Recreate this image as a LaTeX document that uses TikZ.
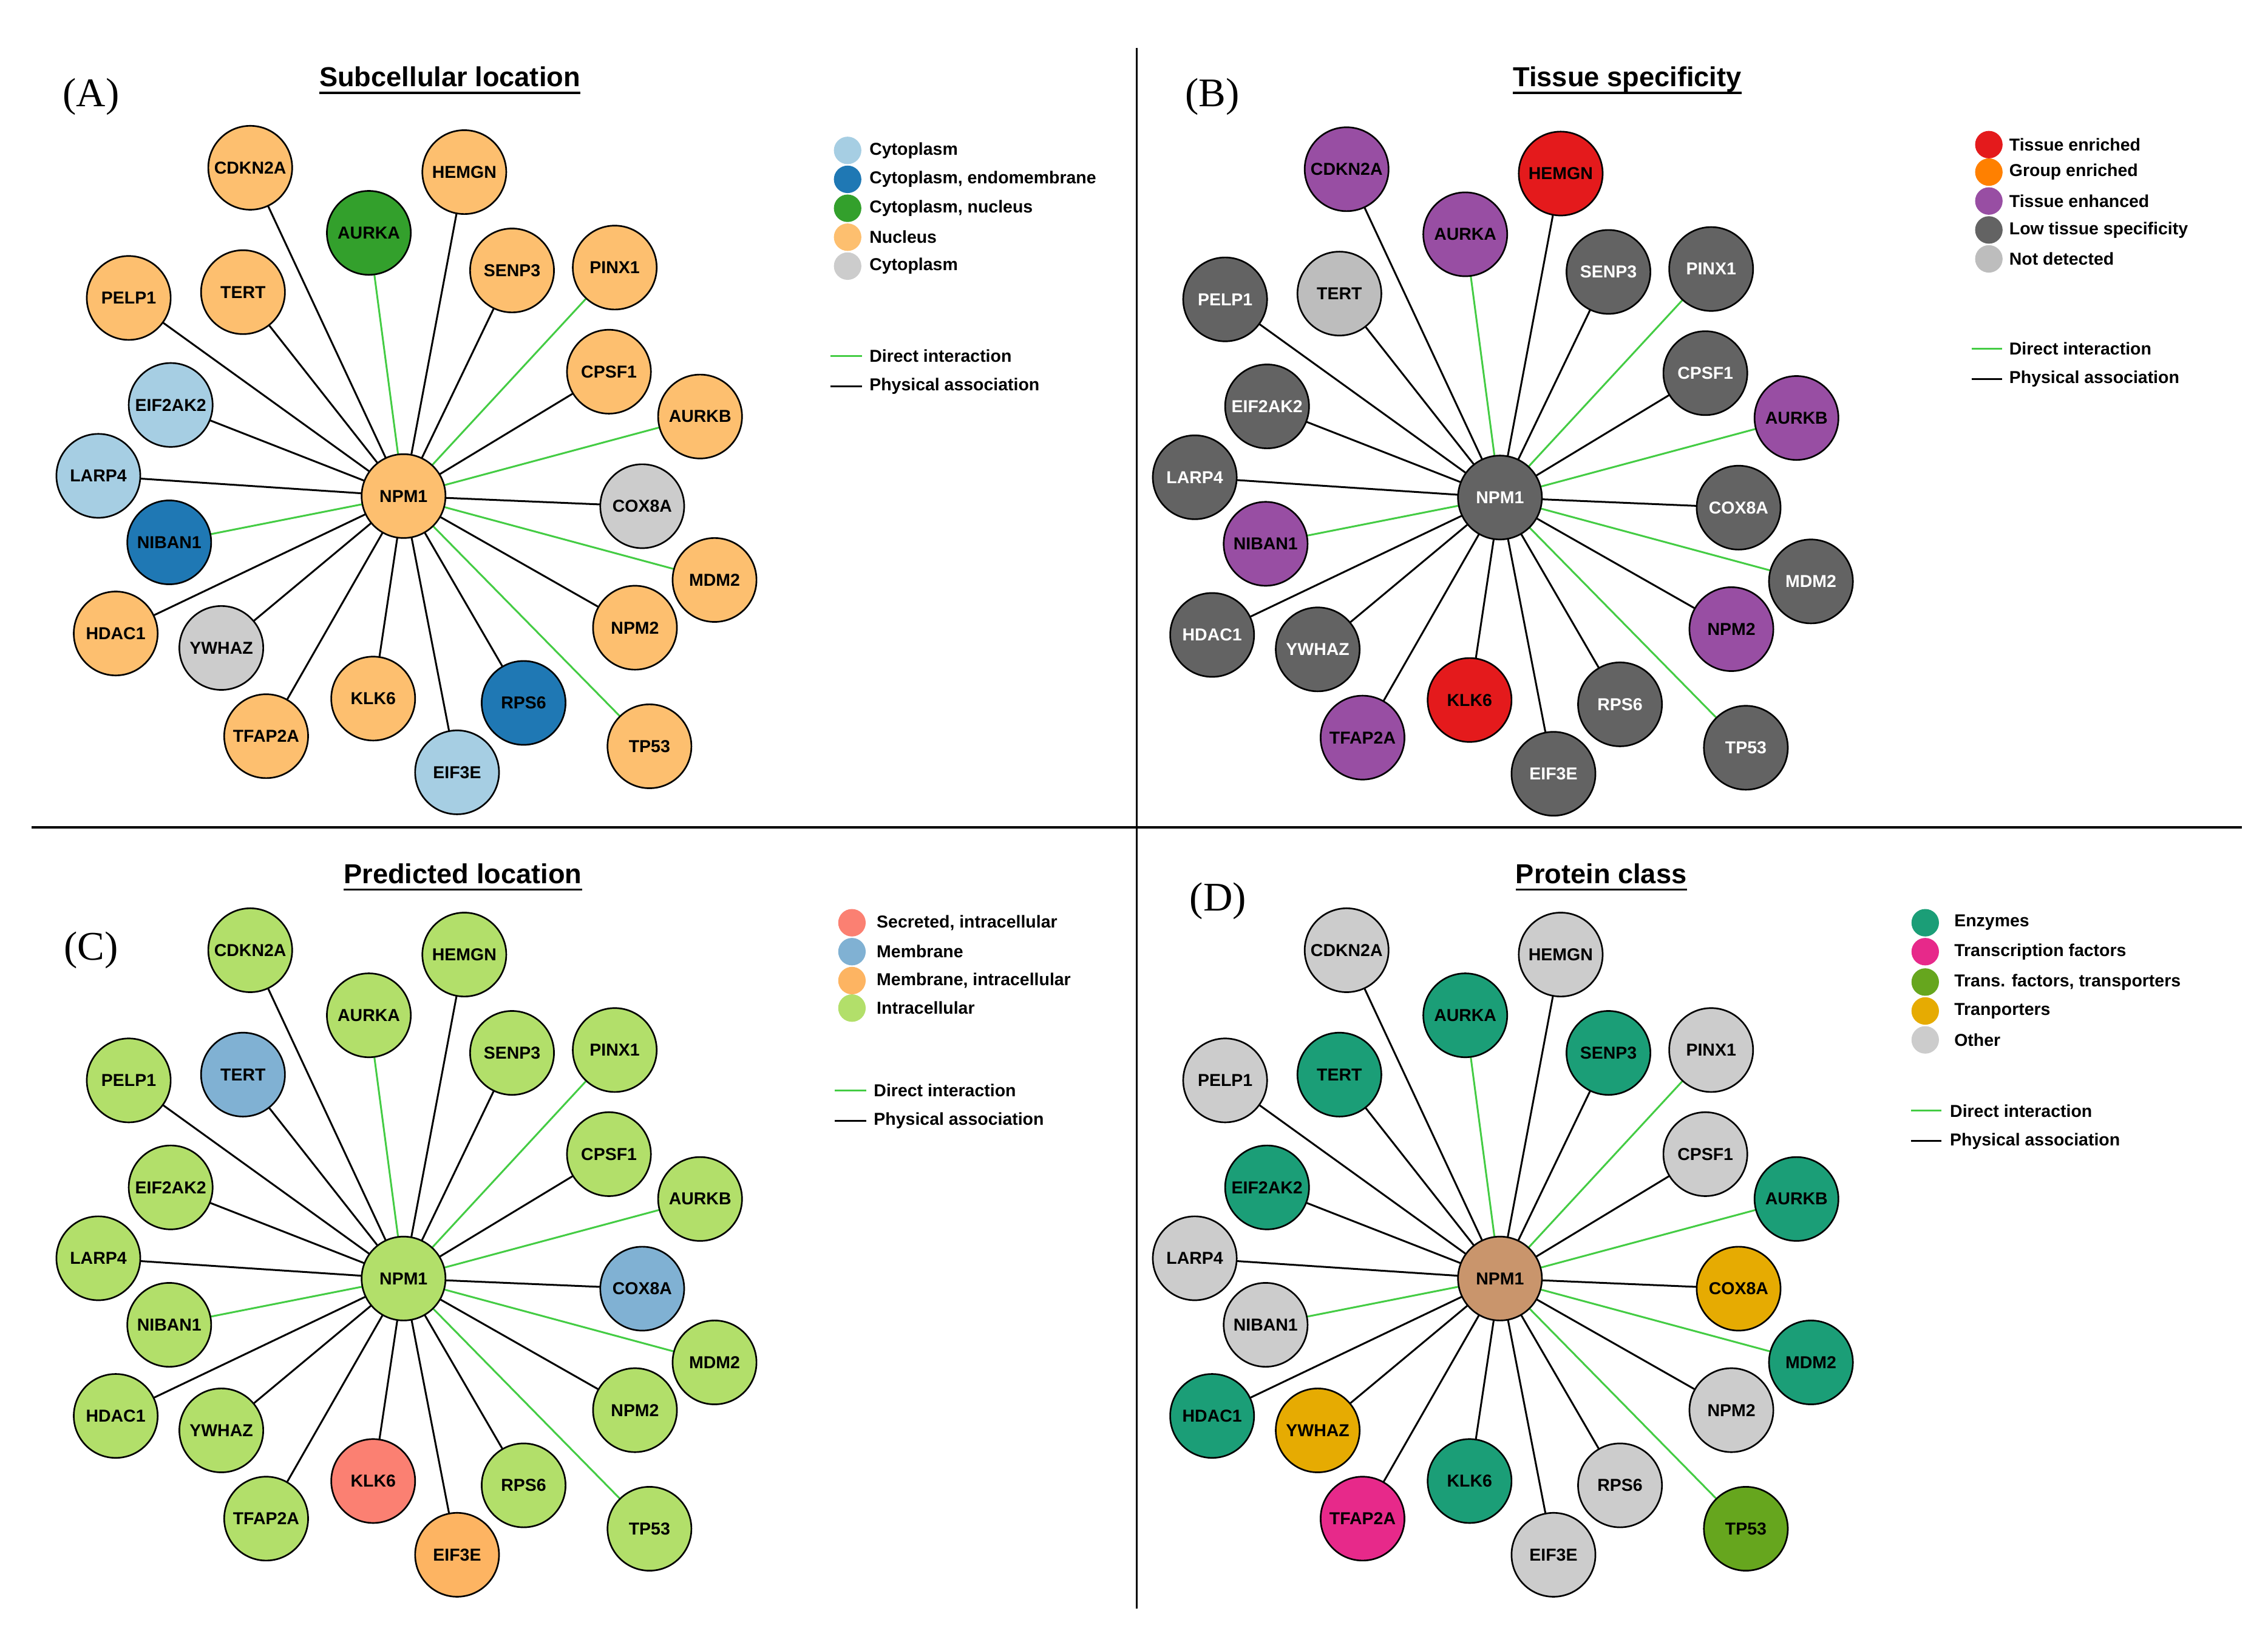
\documentclass[tikz,border=0pt]{standalone}
\usepackage{fontspec}
\setmainfont{Liberation Serif}
\setsansfont{Liberation Sans}
\usetikzlibrary{backgrounds}
\definecolor{orA}{HTML}{FDBF6F}
\definecolor{grA}{HTML}{33A02C}
\definecolor{lbA}{HTML}{A6CEE3}
\definecolor{dbA}{HTML}{1F78B4}
\definecolor{gyA}{HTML}{CCCCCC}
\definecolor{puB}{HTML}{984EA3}
\definecolor{reB}{HTML}{E41A1C}
\definecolor{dgB}{HTML}{636363}
\definecolor{lgB}{HTML}{BDBDBD}
\definecolor{lgC}{HTML}{B2DF6A}
\definecolor{blC}{HTML}{80B1D3}
\definecolor{saC}{HTML}{FB8072}
\definecolor{orC}{HTML}{FDB462}
\definecolor{teD}{HTML}{1B9E77}
\definecolor{piD}{HTML}{E7298A}
\definecolor{gnD}{HTML}{66A61E}
\definecolor{goD}{HTML}{E6AB02}
\definecolor{taD}{HTML}{C9956C}
\definecolor{edgeG}{HTML}{44CC44}
\expandafter\def\csname posNPM1\endcsname{279,343}
\expandafter\def\csname posCDKN2A\endcsname{173,116}
\expandafter\def\csname posHEMGN\endcsname{321,119}
\expandafter\def\csname posAURKA\endcsname{255,161}
\expandafter\def\csname posSENP3\endcsname{354,187}
\expandafter\def\csname posPINX1\endcsname{425,185}
\expandafter\def\csname posPELP1\endcsname{89,206}
\expandafter\def\csname posTERT\endcsname{168,202}
\expandafter\def\csname posCPSF1\endcsname{421,257}
\expandafter\def\csname posAURKB\endcsname{484,288}
\expandafter\def\csname posEIF2AK2\endcsname{118,280}
\expandafter\def\csname posLARP4\endcsname{68,329}
\expandafter\def\csname posCOX8A\endcsname{444,350}
\expandafter\def\csname posNIBAN1\endcsname{117,375}
\expandafter\def\csname posMDM2\endcsname{494,401}
\expandafter\def\csname posHDAC1\endcsname{80,438}
\expandafter\def\csname posYWHAZ\endcsname{153,448}
\expandafter\def\csname posNPM2\endcsname{439,434}
\expandafter\def\csname posKLK6\endcsname{258,483}
\expandafter\def\csname posRPS6\endcsname{362,486}
\expandafter\def\csname posTFAP2A\endcsname{184,509}
\expandafter\def\csname posTP53\endcsname{449,516}
\expandafter\def\csname posEIF3E\endcsname{316,534}
\newcommand\drawpanel[2]{%
  \foreach \n/\f/\t in {#2} {%
    \edef\pp{\csname pos\n\endcsname}%
    \node[pn,fill=\f,text=\t] (#1\n) at (\pp) {\n};
  }
  \begin{pgfonlayer}{background}
  \foreach \n in {CDKN2A,HEMGN,SENP3,PELP1,TERT,CPSF1,EIF2AK2,LARP4,COX8A,HDAC1,YWHAZ,NPM2,KLK6,RPS6,TFAP2A,EIF3E}
    \draw[phys] (#1NPM1.center) -- (#1\n.center);
  \foreach \n in {AURKA,PINX1,AURKB,NIBAN1,MDM2,TP53}
    \draw[direct] (#1NPM1.center) -- (#1\n.center);
  \end{pgfonlayer}
}
\newcommand\uline[1]{\draw[line width=1.8pt] ([yshift=-6pt]#1.base west) -- ([yshift=-6pt]#1.base east);}
\begin{document}
\begin{tikzpicture}[x=0.05cm,y=-0.05cm,
  pn/.style={circle,draw=black,line width=1.6pt,minimum size=2.9cm,inner sep=0pt,font=\sffamily\bfseries\fontsize{17}{17}\selectfont},
  phys/.style={black,line width=1.8pt},
  direct/.style={edgeG,line width=1.8pt},
  ttl/.style={font=\sffamily\bfseries\fontsize{27}{27}\selectfont,anchor=base,inner sep=0pt},
  plab/.style={font=\fontsize{40}{40}\selectfont},
  lg/.style={font=\sffamily\bfseries\fontsize{17}{17}\selectfont,anchor=west,inner sep=0pt},
  dot/.style={circle,fill=#1,minimum size=0.95cm,inner sep=0pt},
  div/.style={black,line width=2pt}]
\useasboundingbox (0,0) rectangle (1568,1137);
\draw[div] (786,33) -- (786,1112);
\draw[div] (22,572) -- (1550,572);
\node[ttl] (tA) at (311,60) {Subcellular location}; \uline{tA}
\node[ttl] (tB) at (1125,60) {Tissue specificity}; \uline{tB}
\node[ttl] (tC) at (320,611) {Predicted location}; \uline{tC}
\node[ttl] (tD) at (1107,611) {Protein class}; \uline{tD}
\node[plab] (lA) at (63,67) {(A)};
\node[plab] (lB) at (838,67) {(B)};
\node[plab] (lC) at (63,657) {(C)};
\node[plab] (lD) at (842,623) {(D)};
% panel A
\begin{scope}
\drawpanel{A}{NPM1/orA/black,CDKN2A/orA/black,HEMGN/orA/black,AURKA/grA/black,SENP3/orA/black,PINX1/orA/black,PELP1/orA/black,TERT/orA/black,CPSF1/orA/black,AURKB/orA/black,EIF2AK2/lbA/black,LARP4/lbA/black,COX8A/gyA/black,NIBAN1/dbA/black,MDM2/orA/black,HDAC1/orA/black,YWHAZ/gyA/black,NPM2/orA/black,KLK6/orA/black,RPS6/dbA/black,TFAP2A/orA/black,TP53/orA/black,EIF3E/lbA/black}
\foreach \y/\c/\t [count=\i] in {104/lbA/Cytoplasm,124/dbA/{Cytoplasm, endomembrane},144/grA/{Cytoplasm, nucleus},164/orA/Nucleus,184/gyA/Cytoplasm}
  {\node[dot=\c] (Ad\i) at (586,\y) {}; \node[lg] (At\i) at (601,\y) {\t};}
\coordinate (Ag1) at (574,246); \coordinate (Ag2) at (596,246);
\draw[direct] (Ag1) -- (Ag2); \node[lg] (Agt) at (601,246) {Direct interaction};
\coordinate (Ak1) at (574,267); \coordinate (Ak2) at (596,267);
\draw[phys] (Ak1) -- (Ak2); \node[lg] (Akt) at (601,267) {Physical association};
\end{scope}
% panel B
\begin{scope}[shift={(758,1)}]
\drawpanel{B}{NPM1/dgB/white,CDKN2A/puB/black,HEMGN/reB/black,AURKA/puB/black,SENP3/dgB/white,PINX1/dgB/white,PELP1/dgB/white,TERT/lgB/black,CPSF1/dgB/white,AURKB/puB/black,EIF2AK2/dgB/white,LARP4/dgB/white,COX8A/dgB/white,NIBAN1/puB/black,MDM2/dgB/white,HDAC1/dgB/white,YWHAZ/dgB/white,NPM2/puB/black,KLK6/reB/black,RPS6/dgB/white,TFAP2A/puB/black,TP53/dgB/white,EIF3E/dgB/white}
\foreach \y/\c/\t [count=\i] in {99/reB/Tissue enriched,118/orange/Group enriched,138/puB/Tissue enhanced,158/dgB/Low tissue specificity,178/lgB/Not detected}
  {\node[dot=\c] (Bd\i) at (617,\y) {}; \node[lg] (Bt\i) at (631,\y) {\t};}
\coordinate (Bg1) at (605,240); \coordinate (Bg2) at (626,240);
\draw[direct] (Bg1) -- (Bg2); \node[lg] (Bgt) at (631,240) {Direct interaction};
\coordinate (Bk1) at (605,261); \coordinate (Bk2) at (626,261);
\draw[phys] (Bk1) -- (Bk2); \node[lg] (Bkt) at (631,261) {Physical association};
\end{scope}
% panel C
\begin{scope}[shift={(0,541)}]
\drawpanel{C}{NPM1/lgC/black,CDKN2A/lgC/black,HEMGN/lgC/black,AURKA/lgC/black,SENP3/lgC/black,PINX1/lgC/black,PELP1/lgC/black,TERT/blC/black,CPSF1/lgC/black,AURKB/lgC/black,EIF2AK2/lgC/black,LARP4/lgC/black,COX8A/blC/black,NIBAN1/lgC/black,MDM2/lgC/black,HDAC1/lgC/black,YWHAZ/lgC/black,NPM2/lgC/black,KLK6/saC/black,RPS6/lgC/black,TFAP2A/lgC/black,TP53/lgC/black,EIF3E/orC/black}
\foreach \y/\c/\t [count=\i] in {97/saC/{Secreted, intracellular},117/blC/Membrane,137/orC/{Membrane, intracellular},156/lgC/Intracellular}
  {\node[dot=\c] (Cd\i) at (589,\y) {}; \node[lg] (Ct\i) at (606,\y) {\t};}
\coordinate (Cg1) at (577,213); \coordinate (Cg2) at (599,213);
\draw[direct] (Cg1) -- (Cg2); \node[lg] (Cgt) at (604,213) {Direct interaction};
\coordinate (Ck1) at (577,234); \coordinate (Ck2) at (599,234);
\draw[phys] (Ck1) -- (Ck2); \node[lg] (Ckt) at (604,234) {Physical association};
\end{scope}
% panel D
\begin{scope}[shift={(758,541)}]
\drawpanel{D}{NPM1/taD/black,CDKN2A/gyA/black,HEMGN/gyA/black,AURKA/teD/black,SENP3/teD/black,PINX1/gyA/black,PELP1/gyA/black,TERT/teD/black,CPSF1/gyA/black,AURKB/teD/black,EIF2AK2/teD/black,LARP4/gyA/black,COX8A/goD/black,NIBAN1/gyA/black,MDM2/teD/black,HDAC1/teD/black,YWHAZ/goD/black,NPM2/gyA/black,KLK6/teD/black,RPS6/gyA/black,TFAP2A/piD/black,TP53/gnD/black,EIF3E/gyA/black}
\foreach \y/\c/\t [count=\i] in {97/teD/Enzymes,117/piD/Transcription factors,138/gnD/{Trans. factors, transporters},158/goD/Tranporters,178/gyA/Other}
  {\node[dot=\c] (Dd\i) at (573,\y) {}; \node[lg] (Dt\i) at (593,\y) {\t};}
\coordinate (Dg1) at (563,227); \coordinate (Dg2) at (584,227);
\draw[direct] (Dg1) -- (Dg2); \node[lg] (Dgt) at (590,227) {Direct interaction};
\coordinate (Dk1) at (563,248); \coordinate (Dk2) at (584,248);
\draw[phys] (Dk1) -- (Dk2); \node[lg] (Dkt) at (590,248) {Physical association};
\end{scope}
\end{tikzpicture}
\end{document}
